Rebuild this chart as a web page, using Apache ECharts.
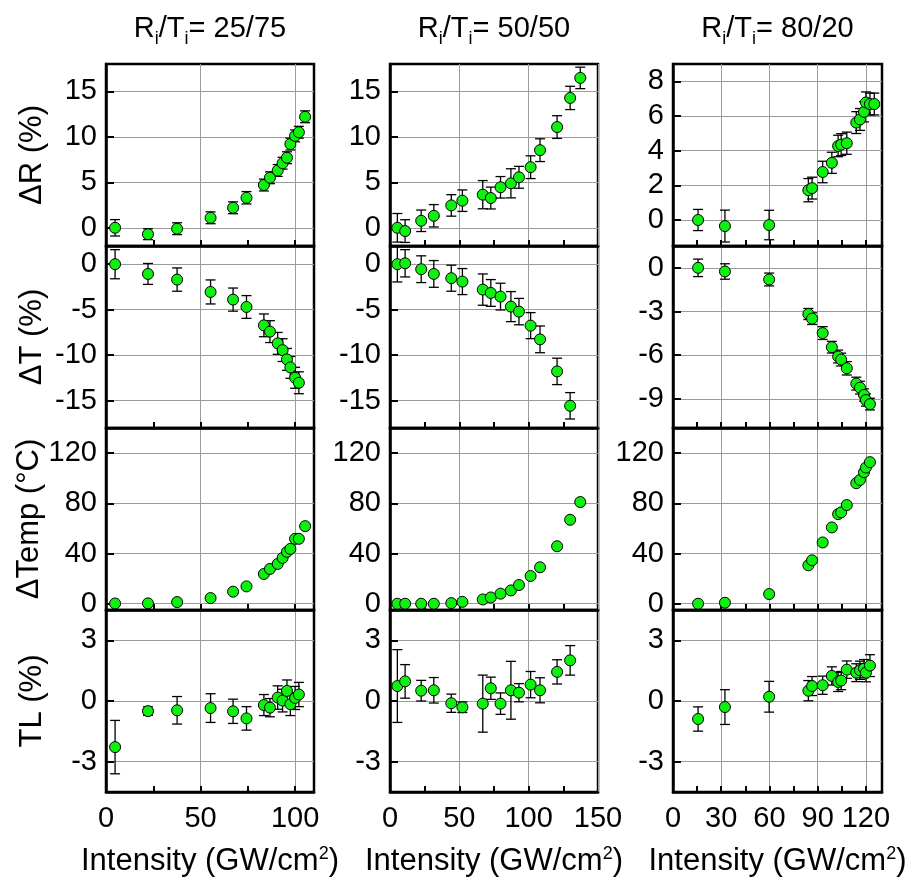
<!DOCTYPE html>
<html><head><meta charset="utf-8">
<script src="https://cdn.jsdelivr.net/npm/echarts@6/dist/echarts.min.js"></script>
<style>html,body{margin:0;padding:0;background:#fff}#c{width:915px;height:886px}</style>
</head><body><div id="c"></div>
<script>
const FONT = '"Liberation Sans", Arial, Helvetica, sans-serif';

// ---- Column 1: Ri/Ti = 25/75 ----
const int25   = [4.8, 22.2, 37.6, 55.3, 67.2, 74.3, 83.5, 86.7, 90.8, 93.4, 95.7, 97.5, 100.0, 102.0, 105.3];
const dR25    = [0.0, -0.7, -0.1, 1.1, 2.2, 3.3, 4.7, 5.5, 6.3, 7.1, 7.7, 9.2, 10.1, 10.5, 12.2];
const dR25e   = [0.9, 0.6, 0.65, 0.65, 0.65, 0.68, 0.65, 0.65, 0.65, 0.65, 0.65, 0.65, 0.65, 0.65, 0.65];
const dT25    = [0.0, -1.07, -1.69, -3.05, -3.89, -4.7, -6.72, -7.41, -8.7, -9.44, -10.46, -11.34, -12.48, -13.03, null];
const dT25e   = [1.6, 1.15, 1.28, 1.32, 1.27, 1.25, 1.25, 1.2, 1.2, 1.25, 1.2, 1.2, 1.15, 1.2, null];
const dTemp25 = [0.2, 0.3, 1.3, 4.5, 9.6, 13.8, 23.7, 27.7, 31.7, 36.5, 41.3, 43.7, 51.7, 51.7, 61.8];
const TL25    = [-2.28, -0.5, -0.46, -0.35, -0.51, -0.86, -0.2, -0.33, 0.17, 0.02, 0.5, -0.16, 0.15, 0.32, null];
const TL25e   = [1.32, 0.21, 0.68, 0.71, 0.6, 0.58, 0.52, 0.45, 0.58, 0.56, 0.54, 0.56, 0.57, 0.6, null];

// ---- Column 2: Ri/Ti = 50/50 ----
const int50   = [5.3, 10.9, 22.5, 31.6, 44.2, 52.2, 66.9, 72.7, 79.7, 87.2, 93.0, 101.4, 108.2, 120.5, 129.9, 137.2];
const dR50    = [0.0, -0.36, 0.77, 1.32, 2.46, 2.98, 3.64, 3.27, 4.45, 4.89, 5.55, 6.66, 8.53, 11.07, 14.27, 16.47];
const dR50e   = [1.57, 1.25, 1.18, 1.23, 1.18, 1.18, 1.55, 1.2, 1.18, 1.6, 1.2, 1.25, 1.25, 1.25, 1.28, 1.18];
const dT50    = [0.0, 0.1, -0.55, -1.07, -1.54, -1.91, -2.79, -3.16, -3.56, -4.66, -5.21, -6.75, -8.26, -11.78, -15.56, null];
const dT50e   = [1.95, 1.5, 1.47, 1.47, 1.43, 1.43, 1.72, 1.47, 1.47, 1.65, 1.45, 1.43, 1.47, 1.45, 1.45, null];
const dTemp50 = [0.0, 0.0, 0.0, 0.0, 0.5, 1.5, 3.4, 5.0, 8.0, 10.6, 14.9, 22.1, 29.0, 45.8, 66.9, 81.0];
const TL50    = [0.74, 0.97, 0.51, 0.53, -0.11, -0.31, -0.13, 0.63, -0.13, 0.53, 0.41, 0.81, 0.53, 1.44, 2.01, null];
const TL50e   = [1.8, 0.83, 0.51, 0.63, 0.45, 0.26, 1.41, 0.55, 0.53, 1.43, 0.45, 0.65, 0.62, 0.6, 0.73, null];

// ---- Column 3: Ri/Ti = 80/20 ----
const int80   = [15.6, 32.3, 59.8, 84.2, 86.5, 93.1, 98.8, 102.7, 104.6, 108.1, 114.0, 116.3, 118.8, 120.0, 122.5, 125.2];
const dR80    = [0.0, -0.35, -0.29, 1.72, 1.84, 2.77, 3.3, 4.27, 4.35, 4.43, 5.62, 5.8, 6.24, 6.78, 6.69, 6.69];
const dR80e   = [0.61, 0.92, 0.85, 0.67, 0.63, 0.62, 0.61, 0.62, 0.63, 0.64, 0.63, 0.63, 0.58, 0.61, 0.63, 0.63];
const dT80    = [0.0, -0.25, -0.8, -3.17, -3.49, -4.48, -5.45, -6.09, -6.3, -6.9, -7.95, -8.23, -8.73, -9.08, -9.36, null];
const dT80e   = [0.6, 0.53, 0.44, 0.38, 0.4, 0.44, 0.4, 0.44, 0.44, 0.46, 0.44, 0.44, 0.42, 0.42, 0.4, null];
const dTemp80 = [0.0, 0.8, 7.7, 30.6, 34.6, 48.8, 60.8, 71.4, 72.8, 78.6, 96.0, 98.6, 104.8, 108.5, 112.8, null];
const TL80    = [-0.89, -0.3, 0.21, 0.51, 0.74, 0.78, 1.24, 0.94, 1.01, 1.55, 1.4, 1.52, 1.6, 1.4, 1.75, null];
const TL80e   = [0.6, 0.86, 0.76, 0.5, 0.47, 0.45, 0.45, 0.47, 0.45, 0.43, 0.44, 0.45, 0.45, 0.45, 0.54, null];

// ---- tick labels ----
const xTicks25 = [0, 50, 100],        xMinor25 = [25, 50, 75, 100];
const xTicks50 = [0, 50, 100, 150],   xMinor50 = [25, 50, 75, 100, 125];
const xTicks80 = [0, 30, 60, 90, 120], xMinor80 = [15, 30, 45, 60, 75, 90, 105, 120];
const yTicksR   = [0, 5, 10, 15];
const yTicksR80 = [0, 2, 4, 6, 8];
const yTicksT   = [-15, -10, -5, 0];
const yTicksT80 = [-9, -6, -3, 0];
const yTicksTemp = [0, 40, 80, 120];
const yTicksTL  = [-3, 0, 3];

// ---- labels ----
const ratioLabels = ['25/75', '50/50', '80/20'];
const rowNames = ['ΔR (%)', 'ΔT (%)', 'ΔTemp (°C)', 'TL (%)'];
const xName = 'Intensity (GW/cm';

// ---- layout ----
const colLeft = [106, 390, 673];
const colWidth = [208, 208, 209];
const rowTop = [64, 246, 428, 610];
const rowH = 182;

const cols = [
  { x: int25, xmax: 110, xt: xTicks25, xm: xMinor25,
    vals: [dR25, dT25, dTemp25, TL25], errs: [dR25e, dT25e, null, TL25e],
    y: [[-2, 18, yTicksR], [-18, 2, yTicksT], [-5, 140, yTicksTemp], [-4.5, 4.5, yTicksTL]] },
  { x: int50, xmax: 150, xt: xTicks50, xm: xMinor50,
    vals: [dR50, dT50, dTemp50, TL50], errs: [dR50e, dT50e, null, TL50e],
    y: [[-2, 18, yTicksR], [-18, 2, yTicksT], [-5, 140, yTicksTemp], [-4.5, 4.5, yTicksTL]] },
  { x: int80, xmax: 130, xt: xTicks80, xm: xMinor80,
    vals: [dR80, dT80, dTemp80, TL80], errs: [dR80e, dT80e, null, TL80e],
    y: [[-1.5, 9, yTicksR80], [-11, 1.5, yTicksT80], [-5, 140, yTicksTemp], [-4.5, 4.5, yTicksTL]] }
];

const grid = [], xAxis = [], yAxis = [], series = [], graphic = [];
const GRID_COLOR = '#9b9b9b';
const AXIS_W = 2.5;

function renderErr(params, api) {
  const x = api.value(0), lo = api.value(1), hi = api.value(2);
  const p1 = api.coord([x, hi]), p2 = api.coord([x, lo]);
  const hw = 5;
  const st = { stroke: '#000', lineWidth: 1.3 };
  return { type: 'group', children: [
    { type: 'line', shape: { x1: p1[0], y1: p1[1], x2: p2[0], y2: p2[1] }, style: st },
    { type: 'line', shape: { x1: p1[0] - hw, y1: p1[1], x2: p1[0] + hw, y2: p1[1] }, style: st },
    { type: 'line', shape: { x1: p2[0] - hw, y1: p2[1], x2: p2[0] + hw, y2: p2[1] }, style: st }
  ]};
}

cols.forEach((col, c) => {
  for (let r = 0; r < 4; r++) {
    const g = grid.length;
    grid.push({ left: colLeft[c], top: rowTop[r], width: colWidth[c], height: rowH,
      show: true, borderColor: '#000', borderWidth: AXIS_W, backgroundColor: 'transparent', containLabel: false });
    const bottom = r === 3;
    // main x axis: labels + grid lines
    xAxis.push({
      gridIndex: g, type: 'value', min: 0, max: col.xmax, position: 'bottom',
      axisLine: { show: true, onZero: false, lineStyle: { color: '#000', width: AXIS_W } },
      axisTick: { show: false, customValues: col.xt },
      splitLine: { show: true, lineStyle: { color: GRID_COLOR, width: 1 } },
      axisLabel: { show: bottom, customValues: col.xt, fontSize: 29, color: '#000', fontFamily: FONT, margin: 12 },
      name: bottom ? '{a|' + xName + '}{s|2}{a|)}' : '',
      nameLocation: 'middle', nameGap: 53,
      nameTextStyle: { rich: {
        a: { fontSize: 31, fontFamily: FONT, color: '#000' },
        s: { fontSize: 18, fontFamily: FONT, color: '#000', padding: [0, 0, 15, 0] } } }
    });
    // tick-only x axis (inward ticks)
    xAxis.push({
      gridIndex: g, type: 'value', min: 0, max: col.xmax, position: 'bottom',
      axisLine: { show: false, onZero: false }, axisLabel: { show: false }, splitLine: { show: false },
      axisTick: { show: true, inside: true, length: 6, customValues: col.xm, lineStyle: { color: '#000', width: 2 } }
    });
    const yr = col.y[r];
    yAxis.push({
      gridIndex: g, type: 'value', min: yr[0], max: yr[1],
      axisLine: { show: true, onZero: false, lineStyle: { color: '#000', width: AXIS_W } },
      axisTick: { show: true, inside: true, length: 8, customValues: yr[2], lineStyle: { color: '#000', width: 2 } },
      splitLine: { show: true, lineStyle: { color: GRID_COLOR, width: 1 } },
      axisLabel: { customValues: yr[2], fontSize: 29, color: '#000', fontFamily: FONT, margin: 9 },
      name: c === 0 ? rowNames[r] : '', nameLocation: 'middle', nameGap: 58,
      nameTextStyle: { fontSize: 31, fontFamily: FONT, color: '#000' }
    });
    const vals = col.vals[r], errs = col.errs[r];
    const pts = [], eb = [];
    col.x.forEach((xv, i) => {
      if (vals[i] == null) return;
      pts.push([xv, vals[i]]);
      if (errs && errs[i] != null) eb.push([xv, vals[i] - errs[i], vals[i] + errs[i]]);
    });
    if (eb.length) series.push({ type: 'custom', xAxisIndex: 2 * g, yAxisIndex: g, renderItem: renderErr,
      data: eb, encode: { x: 0, y: [1, 2] }, z: 2, clip: false, silent: true });
    series.push({ type: 'scatter', xAxisIndex: 2 * g, yAxisIndex: g, data: pts, symbolSize: 11, z: 3, clip: false,
      itemStyle: { color: '#0ef00e', borderColor: '#000', borderWidth: 1, opacity: 1 } });
  }
  graphic.push({ type: 'text', x: colLeft[c] + colWidth[c] / 2, y: 31,
    style: { text: '{r|R}{s|i}{r|/T}{s|i}{r|= ' + ratioLabels[c] + '}', align: 'center', verticalAlign: 'middle',
      rich: { r: { fontSize: 29, fontFamily: FONT, fill: '#000', color: '#000', verticalAlign: 'bottom', padding: [0, 0, 5, 0] },
              s: { fontSize: 18, fontFamily: FONT, fill: '#000', color: '#000', verticalAlign: 'bottom' } } } });
});

const chart = echarts.init(document.getElementById('c'), null, { renderer: 'canvas' });
chart.setOption({ animation: false, backgroundColor: '#fff', grid, xAxis, yAxis, series, graphic });
</script></body></html>
